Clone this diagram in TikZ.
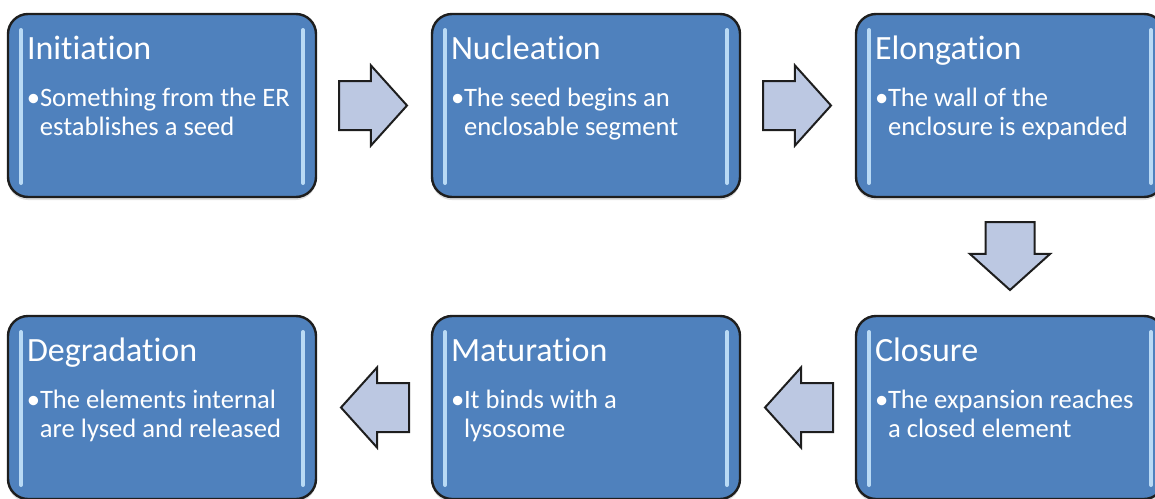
\documentclass[tikz,border=0pt]{standalone}
\usepackage{fontspec}
\setmainfont[Ligatures=NoCommon]{Carlito}
\usepackage{tikz}
\usetikzlibrary{shapes.arrows,shadows,calc}

\definecolor{boxblue}{HTML}{4F81BD}
\definecolor{boxline}{HTML}{1E1E1E}
\definecolor{glowblue}{HTML}{B9DAF5}
\definecolor{arrowfill}{HTML}{BCC8E2}

\newcommand{\stagetext}[3]{%
  \parbox[c][91.5pt][t]{154pt}{%
    \hspace*{9.5pt}\fontsize{17}{20}\selectfont\rule{0pt}{22.5pt}#1\par
    \vspace{9pt}%
    \fontsize{13.3}{14.5}\selectfont
    \hspace*{9.5pt}\makebox[6.5pt][l]{\textbullet}\parbox[t]{135pt}{#2\\#3}}}

\tikzset{
  stage/.style={rectangle, rounded corners=10pt, draw=boxline, line width=1.2pt,
    fill=boxblue, text=white, inner sep=0pt, minimum width=154pt, minimum height=91.5pt,
    drop shadow={shadow xshift=0pt, shadow yshift=-1.5pt, opacity=0.25},
    path picture={
      \draw[glowblue, line width=2pt, line cap=round]
        ([xshift=6.5pt,yshift=-8pt]path picture bounding box.north west) --
        ([xshift=6.5pt,yshift=7pt]path picture bounding box.south west)
        ([xshift=-6.5pt,yshift=-8pt]path picture bounding box.north east) --
        ([xshift=-6.5pt,yshift=7pt]path picture bounding box.south east);}},
  flowarrow/.style={single arrow, draw=boxline, line width=1pt, fill=arrowfill,
    minimum height=34pt, minimum width=39pt,
    single arrow head extend=7.75pt, single arrow tip angle=96, anchor=tail},
  flowright/.style={flowarrow, inner xsep=2pt, inner ysep=11.75pt, xshift=-18pt},
  flowleft/.style={flowarrow, inner xsep=2pt, inner ysep=11.75pt, shape border rotate=180, xshift=18pt},
  flowdown/.style={flowarrow, inner xsep=11.75pt, inner ysep=2pt, shape border rotate=270, yshift=17.75pt}
}

\begin{document}
\begin{tikzpicture}[x=0.5pt, y=-0.5pt]
  \useasboundingbox (0,0) rectangle (1155,498);
  \clip (0,0) rectangle (1155,498);
  % top row
  \node [stage] (init) at (162, 105.5) {\stagetext{Initiation}{Something from the ER}{establishes a seed}};
  \node [stage] (nucl) at (586, 105.5) {\stagetext{Nucleation}{The seed begins an}{enclosable segment}};
  \node [stage] (elong) at (1010, 105.5) {\stagetext{Elongation}{The wall of the}{enclosure is expanded}};
  % bottom row
  \node [stage] (closure) at (1010, 407.5) {\stagetext{Closure}{The expansion reaches}{a closed element}};
  \node [stage] (matur) at (586, 407.5) {\stagetext{Maturation}{It binds with a}{lysosome}};
  \node [stage] (degrad) at (162, 407.5) {\stagetext{Degradation}{The elements internal}{are lysed and released}};
  % block arrows
  \node [flowright] (init-nucl) at ($(init.east)!0.5!(nucl.west)$) {};
  \node [flowright] (nucl-elong) at ($(nucl.east)!0.5!(elong.west)$) {};
  \node [flowdown] (elong-closure) at ($(elong.south)!0.5!(closure.north)$) {};
  \node [flowleft] (closure-matur) at ($(closure.west)!0.5!(matur.east)$) {};
  \node [flowleft] (matur-degrad) at ($(matur.west)!0.5!(degrad.east)$) {};
\end{tikzpicture}
\end{document}
